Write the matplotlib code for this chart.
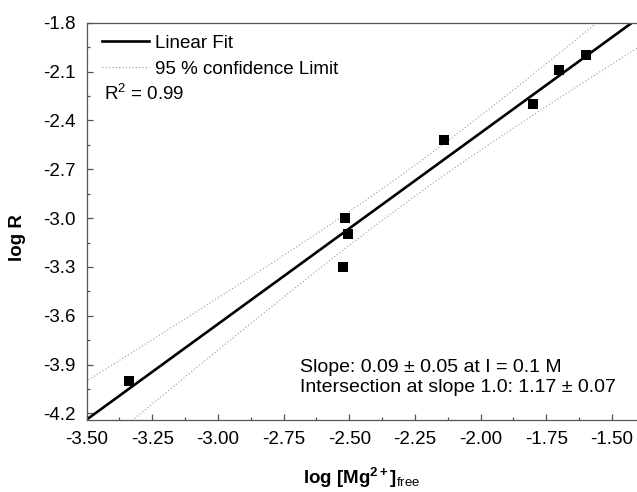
# %% Imports & config
import numpy as np
import matplotlib
matplotlib.use("Agg")
import matplotlib.pyplot as plt
from matplotlib.ticker import MultipleLocator, FormatStrFormatter

plt.rcParams["font.family"] = ["Liberation Sans", "DejaVu Sans"]
plt.rcParams["mathtext.fontset"] = "custom"
plt.rcParams["mathtext.rm"] = "Liberation Sans"
plt.rcParams["mathtext.it"] = "Liberation Sans:italic"
plt.rcParams["mathtext.bf"] = "Liberation Sans:bold"
plt.rcParams["axes.unicode_minus"] = False

# %% Data: log of free Mg2+ vs log R
log_mg = [-3.34, -2.516, -2.504, -2.525, -2.139, -1.80, -1.703, -1.60]
log_r = [-4.00, -3.00, -3.10, -3.30, -2.52, -2.30, -2.09, -2.00]

r_squared_text = "0.99"
slope_text = "Slope: 0.09 \u00b1 0.05 at I = 0.1 M"
intersect_text = "Intersection at slope 1.0: 1.17 \u00b1 0.07"

# Student t for a two-sided 95 % interval with n - 2 = 6 degrees of freedom
T_95 = 2.447

# %% Linear fit + 95 % confidence band of the mean
x = np.array(log_mg)
y = np.array(log_r)
slope, intercept = np.polyfit(x, y, 1)
resid = y - (slope * x + intercept)
s = np.sqrt(np.sum(resid ** 2) / (len(x) - 2))
sxx = np.sum((x - x.mean()) ** 2)

xs = np.linspace(-3.6, -1.3, 200)
fit = slope * xs + intercept
half = T_95 * s * np.sqrt(1 / len(x) + (xs - x.mean()) ** 2 / sxx)

# %% Plot
fig = plt.figure(figsize=(6.37, 4.92), dpi=100)
ax = fig.add_axes([86.5 / 637, 1 - 420 / 492, 1 - 86.5 / 637, (420 - 22.7) / 492])

ax.plot(xs, fit, color="black", lw=1.9, label="Linear Fit")
ax.plot(xs, fit + half, color="#999999", lw=0.8, ls=(0, (1, 2)),
        label="95 % confidence Limit")
ax.plot(xs, fit - half, color="#999999", lw=0.8, ls=(0, (1, 2)))
ax.plot(x, y, "s", color="black", ms=6.5, mec="black", mew=0)

ax.set_xlim(-3.5, -1.405)
ax.set_ylim(-4.24, -1.8)

ax.xaxis.set_major_locator(MultipleLocator(0.25))
ax.xaxis.set_minor_locator(MultipleLocator(0.125))
ax.yaxis.set_major_locator(MultipleLocator(0.3))
ax.yaxis.set_minor_locator(MultipleLocator(0.15))
ax.xaxis.set_major_formatter(FormatStrFormatter("%.2f"))
ax.yaxis.set_major_formatter(FormatStrFormatter("%.1f"))

spine_col = "#555555"
for side in ["left", "bottom", "top"]:
    ax.spines[side].set_color(spine_col)
    ax.spines[side].set_linewidth(0.9)
ax.spines["right"].set_visible(False)
ax.tick_params(which="both", direction="in", color=spine_col, width=0.9,
               top=False, right=False)
ax.tick_params(which="major", length=4.5, labelsize=13.5, pad=8)
ax.tick_params(which="minor", length=2.5)

ax.set_ylabel("log R", fontsize=13.5, fontweight="bold")
ax.yaxis.set_label_coords(-0.11, 0.46)
ax.set_xlabel(r"log [Mg$^{\mathbf{2+}}$]$_{\mathrm{free}}$", fontsize=13.5,
              fontweight="bold", labelpad=13)

# legend sits in the top-left corner without a frame
leg = ax.legend(loc="upper left", frameon=False, fontsize=13.5,
                handlelength=2.5, handletextpad=0.35, labelspacing=0.45,
                borderaxespad=0.3, borderpad=0.35,
                bbox_to_anchor=(0.006, 1.0))

fig.text(104 / 637, 1 - 100 / 492, r"R$^{2}$ = " + r_squared_text,
         fontsize=13.5, va="baseline")
fig.text(300 / 637, 1 - 371.7 / 492, slope_text, fontsize=14, va="baseline")
fig.text(300 / 637, 1 - 392 / 492, intersect_text, fontsize=14, va="baseline")

fig.savefig("out.png", dpi=100)
